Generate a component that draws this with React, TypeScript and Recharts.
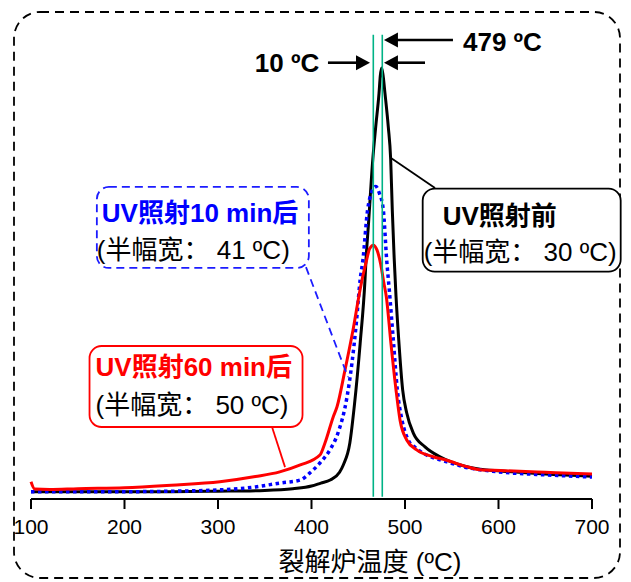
import React from 'react';
import { LineChart, Line, XAxis, YAxis, ReferenceLine, ReferenceDot } from 'recharts';

const FONT = '"Liberation Sans", Arial, "Noto Sans CJK SC", sans-serif';

// x axis ticks (°C)
const xTicks = [100, 200, 300, 400, 500, 600, 700];

// UV照射前 (black)
const blackT = [100, 150, 200, 250, 300, 350, 380, 400, 410, 420, 430, 434, 441, 446, 452, 457.2, 458.3, 461, 465.5, 468.7, 472.2, 473.6, 475, 476.5, 478.6, 482.1, 484.7, 486.4, 488.4, 490.4, 493.3, 497.5, 501.8, 508.9, 521.4, 537.4, 566, 580.2, 602, 650, 700];
const blackV = [0.017, 0.017, 0.017, 0.017, 0.018, 0.02, 0.024, 0.03, 0.037, 0.044, 0.062, 0.079, 0.13, 0.22, 0.36, 0.508, 0.555, 0.64, 0.787, 0.864, 0.941, 0.982, 1.0, 0.984, 0.941, 0.864, 0.787, 0.671, 0.56, 0.47, 0.369, 0.253, 0.2, 0.153, 0.121, 0.098, 0.075, 0.069, 0.065, 0.058, 0.053];

// UV照射10 min后 (blue dotted)
const blueT = [100, 150, 200, 250, 300, 340, 366, 388, 398, 410, 420, 428.3, 438, 443.3, 448, 452, 455, 460, 464, 468.7, 472.5, 476.8, 480.4, 483.2, 487.5, 491.8, 496.8, 503.5, 510.7, 519.6, 530, 545, 562.4, 600, 650, 700];
const blueV = [0.017, 0.017, 0.017, 0.018, 0.021, 0.028, 0.037, 0.044, 0.06, 0.086, 0.115, 0.153, 0.237, 0.316, 0.41, 0.508, 0.555, 0.671, 0.71, 0.725, 0.71, 0.671, 0.555, 0.485, 0.369, 0.253, 0.183, 0.137, 0.12, 0.106, 0.096, 0.086, 0.075, 0.063, 0.056, 0.051];

// UV照射60 min后 (red)
const redT = [100, 104, 120, 150, 200, 250, 302, 340, 366, 388, 409, 414.4, 423.3, 427.3, 435.8, 444.4, 451.9, 454, 459, 462, 466.1, 470, 474, 477.5, 480, 485, 490.4, 494.7, 501.8, 512.5, 530, 544.6, 566, 580, 602, 650, 700];
const redV = [0.04, 0.023, 0.022, 0.024, 0.026, 0.032, 0.04, 0.052, 0.063, 0.079, 0.102, 0.13, 0.191, 0.214, 0.299, 0.392, 0.485, 0.508, 0.555, 0.58, 0.589, 0.578, 0.545, 0.5, 0.47, 0.36, 0.253, 0.183, 0.137, 0.114, 0.098, 0.09, 0.075, 0.068, 0.066, 0.062, 0.058];

const rows = (t: number[], v: number[]) => t.map((T, i) => ({ T, v: v[i] }));
const blackRows = rows(blackT, blackV);
const blueRows = rows(blueT, blueV);
const redRows = rows(redT, redV);

// annotation anchors (data coordinates)
const greenLinesT = [466.1, 475.7];
const greenSpan = [0.005, 1.077];

const arrows = [
  { from: { x: 551.3, y: 1.065 }, to: { x: 477.5, y: 1.065 } },
  { from: { x: 417.6, y: 1.0123 }, to: { x: 462.6, y: 1.0123 } },
  { from: { x: 521.4, y: 1.0123 }, to: { x: 477.5, y: 1.0123 } },
];

const boxes = [
  { T: 283.8, v: 0.63, w: 212, h: 81, stroke: '#1c1cff', dash: '8 5', l1: 'UV照射10 min后', c1: '#0000ff', l2: '(半幅宽： 41 ºC)', x1: 5, x2: 0, y1: 26, y2: 63 },
  { T: 276.5, v: 0.261, w: 213, h: 81, stroke: '#ff0000', dash: undefined, l1: 'UV照射60 min后', c1: '#ff0000', l2: '(半幅宽： 50 ºC)', x1: 6, x2: 6, y1: 21, y2: 59 },
  { T: 624.8, v: 0.624, w: 198, h: 83, stroke: '#000000', dash: undefined, l1: 'UV照射前', c1: '#000000', l2: '(半幅宽： 30 ºC)', x1: 20, x2: 1, y1: 27, y2: 63 },
];

const connectors = [
  { from: { x: 485.0, y: 0.791 }, to: { x: 532.1, y: 0.7216 }, stroke: '#000', dash: undefined },
  { from: { x: 394.1, y: 0.538 }, to: { x: 439.0, y: 0.283 }, stroke: '#1c1cff', dash: '8 5' },
  { from: { x: 357.8, y: 0.167 }, to: { x: 371.7, y: 0.074 }, stroke: '#ff0000', dash: undefined },
];

const labels = [
  { T: 562.0, v: 1.061, text: '479 ºC', anchor: 'start' },
  { T: 408.3, v: 1.0123, text: '10 ºC', anchor: 'end' },
];

const ArrowShape = (props: any) => {
  const { x1, y1, x2, y2 } = props;
  const dx = x2 - x1;
  const dy = y2 - y1;
  const len = Math.hypot(dx, dy) || 1;
  const ux = dx / len;
  const uy = dy / len;
  const hl = 14;
  const hw = 7.5;
  const bx = x2 - ux * hl;
  const by = y2 - uy * hl;
  const px = -uy;
  const py = ux;
  return (
    <g>
      <line x1={x1} y1={y1} x2={bx + ux * 1} y2={by + uy * 1} stroke="#000" strokeWidth={2.6} />
      <polygon points={`${x2},${y2} ${bx + px * hw},${by + py * hw} ${bx - px * hw},${by - py * hw}`} fill="#000" />
    </g>
  );
};

const makeBox = (b: any) => (props: any) => {
  const { cx, cy } = props;
  const left = cx - b.w / 2;
  const top = cy - b.h / 2;
  return (
    <g style={{ fontFamily: FONT }}>
      <rect x={left} y={top} width={b.w} height={b.h} rx={12} ry={12} fill="#fff" stroke={b.stroke} strokeWidth={1.8} strokeDasharray={b.dash} />
      <text x={left + b.x1} y={top + b.y1} fontSize={26} fontWeight="bold" fill={b.c1} dominantBaseline="central" fontFamily={FONT}>{b.l1}</text>
      <text x={left + b.x2} y={top + b.y2} fontSize={26} fill="#000" dominantBaseline="central" fontFamily={FONT}>{b.l2}</text>
    </g>
  );
};

const makeLabel = (l: any) => (props: any) => (
  <text x={props.cx} y={props.cy} fontSize={26} fontWeight="bold" fill="#000" textAnchor={l.anchor} dominantBaseline="central" fontFamily={FONT}>{l.text}</text>
);

export default function App() {
  return (
    <div style={{ position: 'absolute', left: 0, top: 0, width: 631, height: 582, background: '#fff' }}>
      <svg width={631} height={582} style={{ position: 'absolute', left: 0, top: 0 }}>
        <rect x={14} y={12} width={606} height={566} rx={26} ry={26} fill="none" stroke="#000" strokeWidth={1.8} strokeDasharray="9 6" />
      </svg>
      <div style={{ position: 'absolute', left: 0, top: 0 }}>
        <LineChart width={631} height={582} margin={{ top: 68, right: 39, bottom: 0, left: 31 }} style={{ fontFamily: FONT }}>
          <XAxis
            type="number"
            dataKey="T"
            domain={[100, 700]}
            ticks={xTicks}
            interval={0}
            height={83}
            tickSize={10}
            tickMargin={10}
            axisLine={{ stroke: '#000', strokeWidth: 2 }}
            tickLine={{ stroke: '#000', strokeWidth: 2 }}
            tick={{ fontSize: 21, fill: '#000', fontFamily: FONT }}
            label={{ value: '裂解炉温度 (ºC)', position: 'insideBottom', offset: 11, dx: 58.5, fontSize: 26, fill: '#000', fontFamily: FONT }}
          />
          <YAxis type="number" domain={[0, 1]} hide />
          <Line data={blackRows} dataKey="v" type="monotone" stroke="#000" strokeWidth={3} dot={false} activeDot={false} isAnimationActive={false} />
          <Line data={blueRows} dataKey="v" type="monotone" stroke="#0000ff" strokeWidth={3.5} strokeDasharray="3.5 3.5" dot={false} activeDot={false} isAnimationActive={false} />
          <Line data={redRows} dataKey="v" type="monotone" stroke="#ff0000" strokeWidth={3} dot={false} activeDot={false} isAnimationActive={false} />
          {greenLinesT.map((t) => (
            <ReferenceLine key={'g' + t} segment={[{ x: t, y: greenSpan[0] }, { x: t, y: greenSpan[1] }]} stroke="#00b386" strokeWidth={1.6} ifOverflow="visible" />
          ))}
          {connectors.map((c, i) => (
            <ReferenceLine key={'c' + i} segment={[c.from, c.to]} stroke={c.stroke} strokeWidth={1.8} strokeDasharray={c.dash} ifOverflow="visible" />
          ))}
          {arrows.map((a, i) => (
            <ReferenceLine key={'a' + i} segment={[a.from, a.to]} ifOverflow="visible" shape={ArrowShape} />
          ))}
          {boxes.map((b, i) => (
            <ReferenceDot key={'b' + i} x={b.T} y={b.v} r={0} ifOverflow="visible" shape={makeBox(b)} />
          ))}
          {labels.map((l, i) => (
            <ReferenceDot key={'l' + i} x={l.T} y={l.v} r={0} ifOverflow="visible" shape={makeLabel(l)} />
          ))}
        </LineChart>
      </div>
    </div>
  );
}
